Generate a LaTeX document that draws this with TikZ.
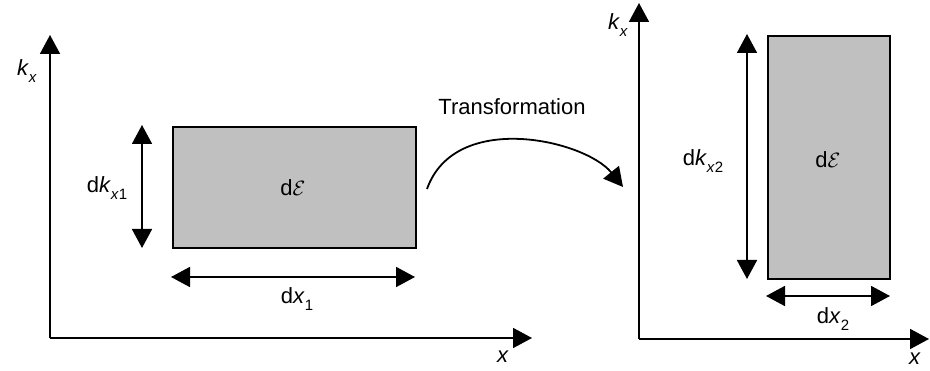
\documentclass[tikz,border=0pt]{standalone}
\usepackage{fontspec}
\setmainfont{Liberation Sans}
\usetikzlibrary{arrows.meta}
\newcommand{\sbs}[1]{\raisebox{-0.35em}{\fontsize{15}{15}\selectfont #1}}
\newcommand{\dEps}{d\raisebox{0pt}{$\mathcal{E}$}}
\begin{document}
\begin{tikzpicture}[x=1pt,y=-1pt,
  tip/.style={Triangle[width=20pt,length=19pt]},
  ax/.style={line width=1.8pt,-{Triangle[width=20pt,length=19pt]}},
  dbl/.style={line width=1.8pt,{Triangle[width=20pt,length=19pt]}-{Triangle[width=20pt,length=19pt]}},
  cell/.style={draw,line width=1.8pt,fill={rgb,255:red,192;green,192;blue,192},inner sep=0pt,anchor=north west},
  lbl/.style={font=\fontsize{22}{26}\selectfont,inner sep=0pt}]
\useasboundingbox (0,0) rectangle (930,371);
% left axes
\coordinate (O1) at (50,338);
\coordinate (Y1) at (50,35);
\coordinate (X1) at (532,338);
\draw[ax] (O1) -- (Y1);
\draw[ax] (O1) -- (X1);
\node[lbl] (ky1) at (27,71) {\textit{k}\sbs{\textit{x}}};
\node[lbl] (xl1) at (503,357) {\textit{x}};
% left cell
\node[cell,minimum width=243pt,minimum height=121pt] (c1) at (172,126) {};
\node[lbl] (e1) at (293,188) {\dEps};
\coordinate (a1) at (142,125);
\coordinate (b1) at (142,248);
\draw[dbl] (a1) -- (b1);
\node[lbl] (dk1) at (107,188) {d\textit{k}\sbs{\textit{x}1}};
\coordinate (p1) at (171,277);
\coordinate (q1) at (415,277);
\draw[dbl] (p1) -- (q1);
\node[lbl] (dx1) at (297,299) {d\textit{x}\sbs{1}};
% transformation
\node[lbl] (tr) at (512,107) {Transformation};
\coordinate (s) at (427,189);
\coordinate (t) at (623,187);
\draw[line width=1.8pt,-{Triangle[width=20pt,length=19pt]}] (s) .. controls (455,110) and (585,140) .. (t);
% right axes
\coordinate (O2) at (639,339);
\coordinate (Y2) at (639,3);
\coordinate (X2) at (929,339);
\draw[ax] (O2) -- (Y2);
\draw[ax] (O2) -- (X2);
\node[lbl] (ky2) at (618,25) {\textit{k}\sbs{\textit{x}}};
\node[lbl] (xl2) at (915,359) {\textit{x}};
% right cell
\node[cell,minimum width=122pt,minimum height=243pt] (c2) at (767,35) {};
\node[lbl] (e2) at (828,160) {\dEps};
\coordinate (a2) at (747,34);
\coordinate (b2) at (747,279);
\draw[dbl] (a2) -- (b2);
\node[lbl] (dk2) at (703,161) {d\textit{k}\sbs{\textit{x}2}};
\coordinate (p2) at (766,296);
\coordinate (q2) at (890,296);
\draw[dbl] (p2) -- (q2);
\node[lbl] (dx2) at (833,319) {d\textit{x}\sbs{2}};
\end{tikzpicture}
\end{document}
